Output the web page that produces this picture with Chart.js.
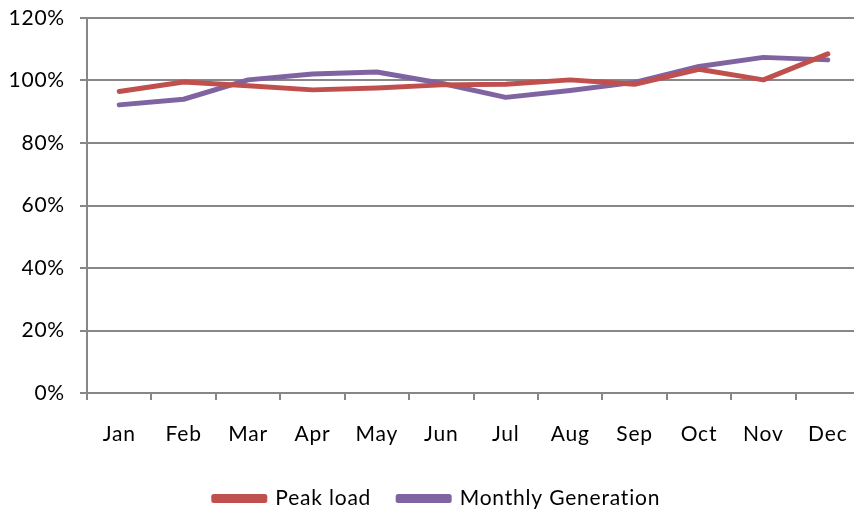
<!DOCTYPE html>
<html>
<head>
<meta charset="utf-8">
<script src="https://cdn.jsdelivr.net/npm/chart.js@4/dist/chart.umd.min.js"></script>
<style>
  html, body { margin: 0; padding: 0; background: #fff; overflow: hidden; }
  canvas { display: block; }
</style>
</head>
<body>
<canvas id="chart" width="870" height="519"></canvas>
<script>
const months = ["Jan", "Feb", "Mar", "Apr", "May", "Jun", "Jul", "Aug", "Sep", "Oct", "Nov", "Dec"]
const peakLoad = [96.5, 99.5, 98.3, 97.0, 97.6, 98.6, 98.8, 100.2, 98.8, 103.6, 100.2, 108.5]
const monthlyGeneration = [92.2, 94.0, 100.2, 102.1, 102.7, 99.1, 94.6, 96.8, 99.4, 104.5, 107.4, 106.6]
const yTicks = [0, 20, 40, 60, 80, 100, 120]

const gridGray = "#878787"
const font = { family: "Lato", size: 21 }

// the reference text is a bit stretched, so space the letters out
const letterSpacing = {
  id: "letterSpacing",
  beforeUpdate(chart) { chart.ctx.letterSpacing = "0.8px" },
  beforeDraw(chart) { chart.ctx.letterSpacing = "0.8px" }
}

// nudge the legend a little right, like the original
const legendShift = {
  id: "legendShift",
  afterLayout(chart) {
    chart.legend.left += 7
    chart.legend.right += 7
  }
}

const ctx = document.getElementById("chart").getContext("2d")

new Chart(ctx, {
  type: "line",
  data: {
    labels: months,
    datasets: [
      {
        label: "Peak load",
        data: peakLoad,
        borderColor: "#C0504D",
        backgroundColor: "#C0504D",
        borderWidth: 5,
        borderCapStyle: "round",
        borderJoinStyle: "round",
        pointRadius: 0,
        tension: 0
      },
      {
        label: "Monthly Generation",
        data: monthlyGeneration,
        borderColor: "#8064A2",
        backgroundColor: "#8064A2",
        borderWidth: 5,
        borderCapStyle: "round",
        borderJoinStyle: "round",
        pointRadius: 0,
        tension: 0
      }
    ]
  },
  plugins: [letterSpacing, legendShift],
  options: {
    responsive: false,
    animation: false,
    layout: {
      padding: { top: 18, right: 10, left: 0, bottom: 0 }
    },
    plugins: {
      legend: {
        position: "bottom",
        labels: {
          color: "#000",
          font: font,
          boxWidth: 51,
          boxHeight: 4,
          padding: 27
        }
      },
      tooltip: { enabled: false }
    },
    scales: {
      x: {
        offset: true,
        grid: {
          offset: true,
          drawOnChartArea: false,
          drawTicks: true,
          tickLength: 7,
          color: gridGray,
          lineWidth: 2
        },
        border: { color: gridGray, width: 2 },
        ticks: {
          color: "#000",
          font: font,
          padding: 22,
          maxRotation: 0,
          autoSkip: false
        },
        afterFit: function(scale) {
          scale.height = 68
        }
      },
      y: {
        min: 0,
        max: 120,
        grid: {
          color: gridGray,
          lineWidth: 2,
          tickLength: 7
        },
        border: { color: gridGray, width: 2 },
        afterBuildTicks: function(scale) {
          scale.ticks = yTicks.map(v => ({ value: v }))
        },
        ticks: {
          color: "#000",
          font: font,
          padding: 15,
          callback: function(value) {
            return value + "%"
          }
        },
        afterFit: function(scale) {
          scale.width = 87
          scale.paddingTop = 0
        }
      }
    }
  }
})
</script>
</body>
</html>
